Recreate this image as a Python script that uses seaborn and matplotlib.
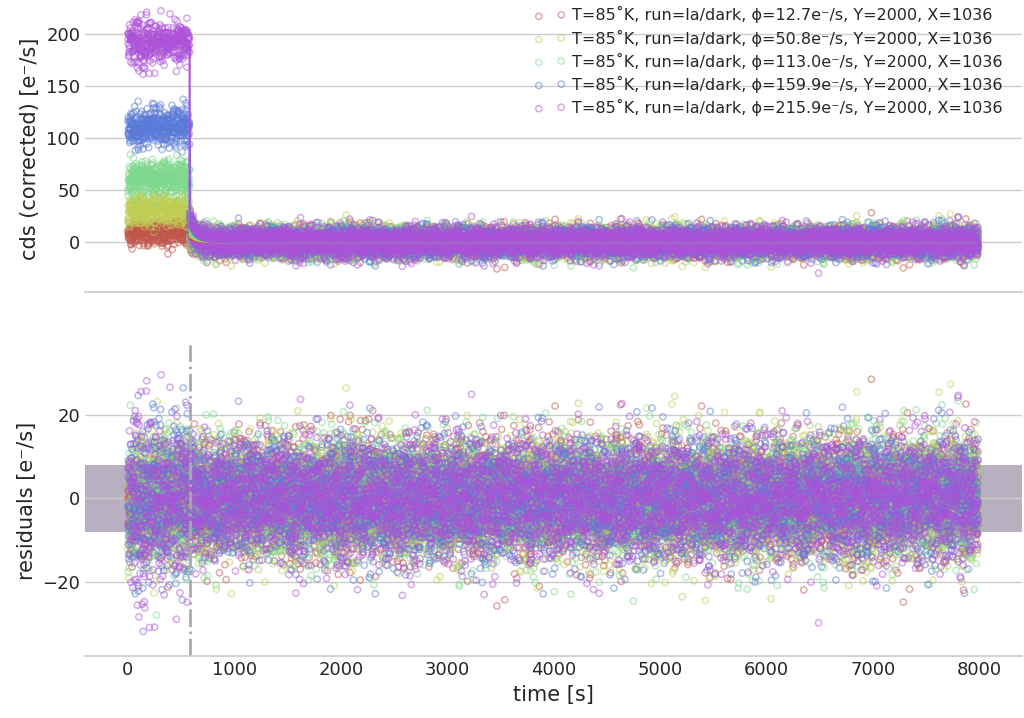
import numpy as np
import pandas as pd
import matplotlib
matplotlib.use("Agg")
import matplotlib.pyplot as plt
import seaborn as sns

# values
flux = [12.7, 50.8, 113.0, 159.9, 215.9]          # legend phi [e-/s]
plateau = [10.0, 32.0, 62.0, 111.0, 193.0]         # measured level while lit
sigma_lit = [6.5, 7.5, 8.5, 9.5, 11.0]             # scatter while lit
sigma_dark = 7.0                                    # scatter after lights off
overshoot = [3.0, 6.0, 10.0, 14.0, 18.0]           # residual decay amplitude
tau = 60.0                                          # decay time [s]
t_off = 580.0                                       # lights off [s]
t_end = 7990.0
dt = 1.5
band = 8.0                                          # grey residual band +-

labels = [f"T=85˚K, run=la/dark, ϕ={f:.1f}e⁻/s, Y=2000, X=1036" for f in flux]
colors = ["#c0564c", "#bfce52", "#7ed88d", "#5b7ad8", "#ad52d8"]

# the point clouds themselves are unreadable noise, so they are drawn with a fixed seed
rng = np.random.default_rng(7)
t = np.arange(0, t_end, dt)
rows = []
for i, lab in enumerate(labels):
    model = np.where(t < t_off, plateau[i],
                     overshoot[i] * np.exp(-(t - t_off) / tau))
    sig = np.where(t < t_off, sigma_lit[i], sigma_dark)
    resid = rng.normal(0, 1, t.size) * sig
    rows.append(pd.DataFrame({"time": t, "model": model,
                              "cds": model + resid, "resid": resid,
                              "series": lab}))
df = pd.concat(rows, ignore_index=True)

sns.set_theme(style="whitegrid")
plt.rcParams["font.family"] = ["DejaVu Sans"]
plt.rcParams["axes.grid.axis"] = "y"

fig = plt.figure(figsize=(10.24, 7.18), dpi=100)
ax1 = fig.add_axes([0.083, 0.593, 0.915, 0.40])
ax2 = fig.add_axes([0.083, 0.086, 0.915, 0.433], sharex=ax1)

for i, lab in enumerate(labels):
    d = df[df.series == lab]
    sns.scatterplot(x=d.time, y=d.cds, ax=ax1, s=20, marker="o",
                    facecolors="none", edgecolors=colors[i], linewidth=1.1,
                    alpha=0.5, label=lab)
for i, lab in enumerate(labels):
    d = df[df.series == lab]
    sns.lineplot(x=d.time, y=d.model, ax=ax1, color=colors[i], lw=1.5,
                 legend=False)

ax2.axhspan(-band, band, color="#b8b0c0", zorder=0, lw=0)
for i, lab in enumerate(labels):
    d = df[df.series == lab]
    sns.scatterplot(x=d.time, y=d.resid, ax=ax2, s=20, marker="o",
                    facecolors="none", edgecolors=colors[i], linewidth=1.1,
                    alpha=0.5, legend=False)
ax2.axvline(t_off, color="#aaaaaa", ls="-.", lw=2)

ax1.set_xlim(-404, 8400)
ax1.set_ylim(-48, 228)
ax2.set_ylim(-37.6, 36.5)
ax1.set_yticks([0, 50, 100, 150, 200])
ax2.set_yticks([-20, 0, 20])
ax1.set_ylabel("cds (corrected) [e⁻/s]", fontsize=15)
ax2.set_ylabel("residuals [e⁻/s]", fontsize=15)
ax1.set_xlabel("")
ax2.set_xlabel("time [s]", fontsize=15)
ax1.tick_params(labelbottom=False, labelsize=13, length=0)
ax2.tick_params(labelsize=13, length=0)

for ax in (ax1, ax2):
    sns.despine(ax=ax, left=True)
    ax.spines["bottom"].set_color("#cccccc")
    ax.set_axisbelow(True)

ax1.legend(loc="upper right", frameon=False, scatterpoints=2, fontsize=11.5,
           bbox_to_anchor=(0.995, 1.045), handletextpad=0.4,
           labelspacing=0.38)

fig.savefig("out.png", dpi=100)
